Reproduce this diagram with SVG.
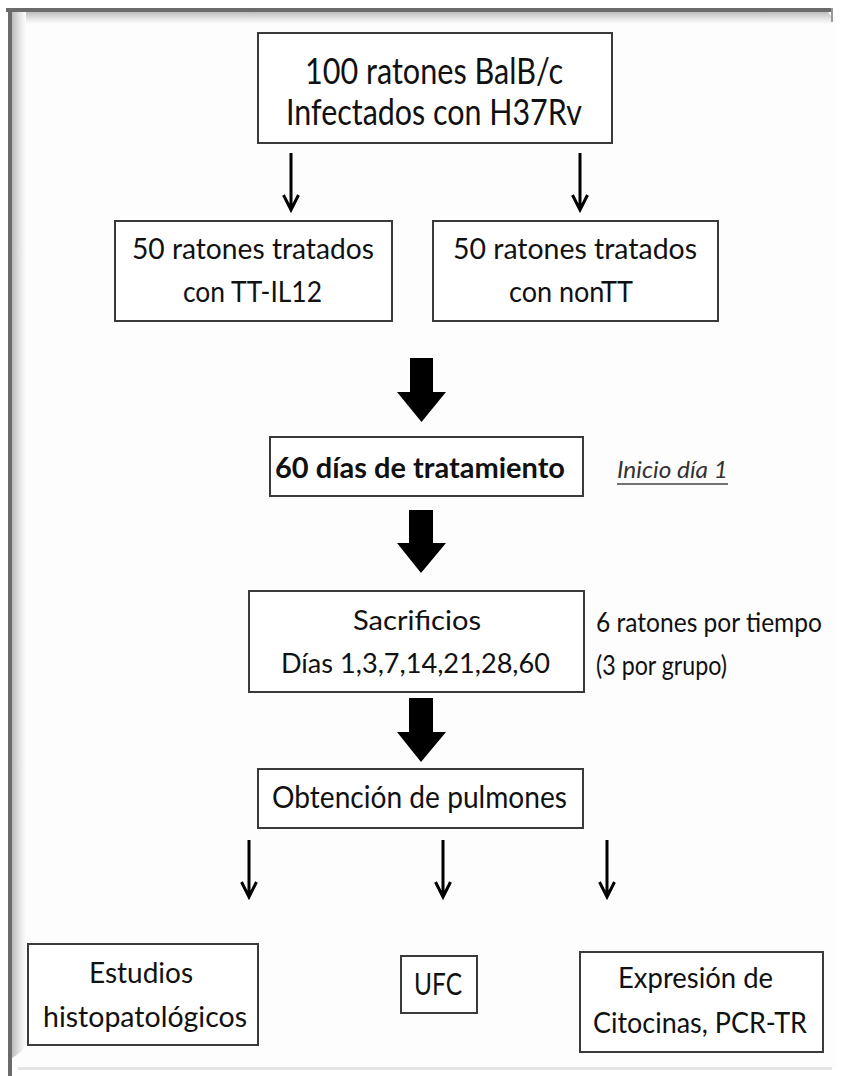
<svg xmlns="http://www.w3.org/2000/svg" width="843" height="1076" viewBox="0 0 843 1076">
<defs>
<linearGradient id="gTop" x1="0" y1="0" x2="0" y2="1">
<stop offset="0" stop-color="#bdbdbd"/>
<stop offset="0.5" stop-color="#e2e2e2"/>
<stop offset="1" stop-color="#fdfdfd"/>
</linearGradient>
<linearGradient id="gLeft" x1="0" y1="0" x2="1" y2="0">
<stop offset="0" stop-color="#bdbdbd"/>
<stop offset="0.5" stop-color="#e2e2e2"/>
<stop offset="1" stop-color="#fdfdfd"/>
</linearGradient>
<style>
.box{fill:#ffffff;stroke:#3a3a3a;stroke-width:2}
.t{font-family:Lato,"Liberation Sans",sans-serif;fill:#111;}
.thin{fill:none;stroke:#000;stroke-width:3;stroke-linecap:butt;stroke-linejoin:miter}
.thick{fill:#000}
</style>
</defs>
<rect x="0" y="0" width="843" height="1076" fill="#ffffff"/>
<g id="frame">
<rect x="12" y="12" width="824" height="1056" fill="#fdfdfd"/>
<path d="M12,12 H828 Q834,18 830,24 H12 Z" fill="url(#gTop)"/>
<path d="M12,12 H26 V1046 Q22,1052 12,1058 Z" fill="url(#gLeft)"/>
<rect x="6" y="8" width="826" height="4" fill="#6b6b6b"/>
<rect x="8" y="8" width="4" height="1068" fill="#6b6b6b"/>
<rect x="831" y="8" width="2" height="14" fill="#9a9a9a"/>
<rect x="18" y="1067" width="814" height="3" fill="#e4e4e4"/>
</g>
<g id="connectors">
<path class="thin" d="M291,153 V209 M283.5,195 L291,210 L298.5,195"/>
<path class="thin" d="M580,153 V209 M572.5,195 L580,210 L587.5,195"/>
<polygon class="thick" points="410,358 433,358 433,392 446,392 421.5,422 397,392 410,392"/>
<polygon class="thick" points="409,510 433,510 433,543 446,543 421,573 397,543 409,543"/>
<polygon class="thick" points="409,698 433,698 433,732 446,732 421,762 397,732 409,732"/>
<path class="thin" d="M249,840 V896 M241.5,882 L249,897 L256.5,882"/>
<path class="thin" d="M443,840 V896 M435.5,882 L443,897 L450.5,882"/>
<path class="thin" d="M607,840 V896 M599.5,882 L607,897 L614.5,882"/>
</g>
<g id="n-top">
<rect class="box" x="258" y="33" width="354" height="110"/>
<text class="t" x="305" y="84" font-size="36" textLength="258" lengthAdjust="spacingAndGlyphs">100 ratones BalB/c</text>
<text class="t" x="286" y="125" font-size="36" textLength="296" lengthAdjust="spacingAndGlyphs">Infectados con H37Rv</text>
</g>
<g id="n-tt">
<rect class="box" x="115" y="221" width="277" height="100"/>
<text class="t" x="132" y="259" font-size="28" textLength="242" lengthAdjust="spacingAndGlyphs">50 ratones tratados</text>
<text class="t" x="183" y="302" font-size="28" textLength="139" lengthAdjust="spacingAndGlyphs">con TT-IL12</text>
</g>
<g id="n-nontt">
<rect class="box" x="433" y="221" width="285" height="100"/>
<text class="t" x="453" y="259" font-size="28" textLength="244" lengthAdjust="spacingAndGlyphs">50 ratones tratados</text>
<text class="t" x="509" y="302" font-size="28" textLength="124" lengthAdjust="spacingAndGlyphs">con nonTT</text>
</g>
<g id="n-60dias">
<rect class="box" x="270" y="437" width="313" height="59"/>
<text class="t" x="275" y="478" font-size="28" font-weight="bold" textLength="290" lengthAdjust="spacingAndGlyphs">60 días de tratamiento</text>
</g>
<g id="n-inicio">
<text class="t" x="617" y="478" font-size="24" font-style="italic" style="fill:#333" textLength="111" lengthAdjust="spacingAndGlyphs">Inicio día 1</text>
<line x1="617" y1="484" x2="728" y2="484" stroke="#444" stroke-width="1.5"/>
</g>
<g id="n-sacrificios">
<rect class="box" x="249" y="591" width="335" height="101"/>
<text class="t" x="353" y="630" font-size="27" textLength="128" lengthAdjust="spacingAndGlyphs">Sacrificios</text>
<text class="t" x="281" y="673" font-size="27" textLength="269" lengthAdjust="spacingAndGlyphs">Días 1,3,7,14,21,28,60</text>
</g>
<g id="n-ratones">
<text class="t" x="596" y="632" font-size="26" textLength="226" lengthAdjust="spacingAndGlyphs">6 ratones por tiempo</text>
<text class="t" x="596" y="675" font-size="26" textLength="131" lengthAdjust="spacingAndGlyphs">(3 por grupo)</text>
</g>
<g id="n-obtencion">
<rect class="box" x="258" y="769" width="325" height="59"/>
<text class="t" x="272" y="808" font-size="30" textLength="295" lengthAdjust="spacingAndGlyphs">Obtención de pulmones</text>
</g>
<g id="n-estudios">
<rect class="box" x="28" y="944" width="230" height="101"/>
<text class="t" x="89" y="983" font-size="29" textLength="104" lengthAdjust="spacingAndGlyphs">Estudios</text>
<text class="t" x="43" y="1027" font-size="29" textLength="204" lengthAdjust="spacingAndGlyphs">histopatológicos</text>
</g>
<g id="n-ufc">
<rect class="box" x="401" y="956" width="76" height="57"/>
<text class="t" x="414" y="995" font-size="30" textLength="48" lengthAdjust="spacingAndGlyphs">UFC</text>
</g>
<g id="n-expresion">
<rect class="box" x="580" y="952" width="243" height="100"/>
<text class="t" x="618" y="988" font-size="28" textLength="155" lengthAdjust="spacingAndGlyphs">Expresión de</text>
<text class="t" x="593" y="1033" font-size="28" textLength="214" lengthAdjust="spacingAndGlyphs">Citocinas, PCR-TR</text>
</g>
</svg>
